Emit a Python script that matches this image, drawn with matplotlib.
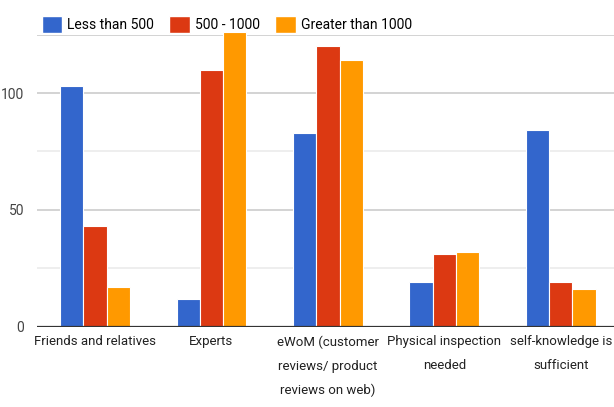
import matplotlib
matplotlib.use('Agg')
import matplotlib.pyplot as plt
import numpy as np
from matplotlib.patches import Patch

plt.rcParams['font.family'] = ['Roboto', 'DejaVu Sans']

categories = ['Friends and relatives', 'Experts',
              'eWoM (customer\nreviews/ product\nreviews on web)',
              'Physical inspection\nneeded', 'self-knowledge is\nsufficient']
series_names = ['Less than 500', '500 - 1000', 'Greater than 1000']
less_500 = [103, 12, 83, 19, 84]
mid_500_1000 = [43, 110, 120, 31, 19]
over_1000 = [17, 126, 114, 32, 16]
colors = ['#3366CC', '#DC3912', '#FF9900']

fig = plt.figure(figsize=(6.14, 4.07), dpi=100)
ax = fig.add_axes([0.060, 0.197, 0.948, 0.718])

x = np.arange(len(categories))
w = 0.2
for i, (vals, c) in enumerate(zip([less_500, mid_500_1000, over_1000], colors)):
    ax.bar(x + (i - 1) * w, vals, w, color=c, edgecolor='white', linewidth=0.8,
           zorder=3, clip_on=False)

ax.set_xlim(-0.5, len(categories) - 0.5)
ax.set_ylim(0, 125)

# gridlines: major at 50/100/125, minor at 25/75
for y in [50, 100, 125]:
    ax.axhline(y, color='#cccccc', lw=1.2, zorder=1)
for y in [25, 75]:
    ax.axhline(y, color='#ebebeb', lw=1.2, zorder=1)
ax.axhline(0, color='#333333', lw=1.6, zorder=4)

ax.set_yticks([0, 50, 100])
ax.set_yticklabels(['0', '50', '100'], fontsize=10, color='#444444')
ax.set_xticks(x)
ax.set_xticklabels(categories, fontsize=9.5, color='#222222', linespacing=2.1,
                   va='top')
ax.tick_params(length=0, pad=6)
ax.tick_params(axis='y', pad=9)
for s in ax.spines.values():
    s.set_visible(False)

handles = [Patch(facecolor=c, edgecolor='white') for c in colors]
fig.legend(handles, series_names, loc='upper left', bbox_to_anchor=(0.052, 0.985),
           ncol=3, frameon=False, fontsize=10, handlelength=1.5, handleheight=1.5,
           handletextpad=0.35, columnspacing=1.1, borderaxespad=0.3)

fig.savefig('out.png', dpi=100)
